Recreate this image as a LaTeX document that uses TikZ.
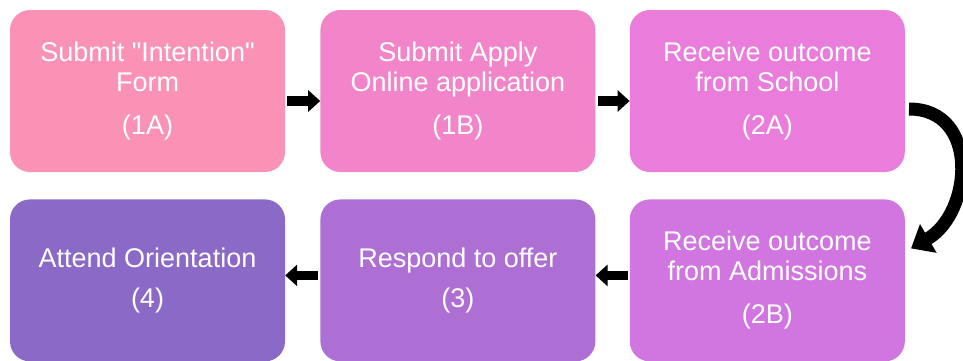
\documentclass[tikz,border=0pt]{standalone}
\usepackage{fontspec}
\setmainfont{Liberation Sans}[Ligatures=TeXOff]
\usetikzlibrary{arrows.meta, positioning}

\definecolor{stepA}{RGB}{249,146,180}
\definecolor{stepB}{RGB}{242,133,201}
\definecolor{stepC}{RGB}{234,125,220}
\definecolor{stepD}{RGB}{209,118,224}
\definecolor{stepE}{RGB}{174,111,213}
\definecolor{stepF}{RGB}{139,105,198}

\begin{document}
\begin{tikzpicture}[
    % Define styles
    stage/.style={rectangle, rounded corners=20pt, minimum width=275pt, minimum height=162pt, inner sep=0pt, text=white, align=center, font=\fontsize{27}{30}\selectfont},
    flow/.style={-{Triangle[length=12pt, width=21pt]}, line width=9.5pt},
    turnarrow/.style={-{Triangle[length=20pt, width=32pt]}, line width=13pt},
    ]

    \useasboundingbox (0pt,0pt) rectangle (963pt,-360pt);

    % Top row
    \node[stage, fill=stepA] (intent) at (147.5pt,-91pt) {Submit "Intention"\\Form\\[13pt](1A)};
    \node[stage, fill=stepB, right=35pt of intent] (apply) {Submit Apply\\Online application\\[13pt](1B)};
    \node[stage, fill=stepC, right=34pt of apply] (school) {Receive outcome\\from School\\[13pt](2A)};

    % Bottom row
    \node[stage, fill=stepD, below=27pt of school] (admit) {Receive outcome\\from Admissions\\[13pt](2B)};
    \node[stage, fill=stepE, left=34pt of admit] (offer) {Respond to offer\\[10pt](3)};
    \node[stage, fill=stepF, left=35pt of offer] (orient) {Attend Orientation\\[10pt](4)};

    % Arrows
    \draw[flow, shorten <=2pt] ([yshift=-10pt]intent.east) -- ([yshift=-10pt]apply.west);
    \draw[flow, shorten <=2pt] ([yshift=-10pt]apply.east) -- ([yshift=-10pt]school.west);
    \draw[turnarrow] ([xshift=4pt, yshift=-18pt]school.east) to[out=0, in=30, looseness=1.3] ([xshift=6pt, yshift=32pt]admit.east);
    \draw[flow, shorten <=2pt] ([yshift=5pt]admit.west) -- ([yshift=5pt]offer.east);
    \draw[flow, shorten <=2pt] ([yshift=5pt]offer.west) -- ([yshift=5pt]orient.east);

\end{tikzpicture}
\end{document}
